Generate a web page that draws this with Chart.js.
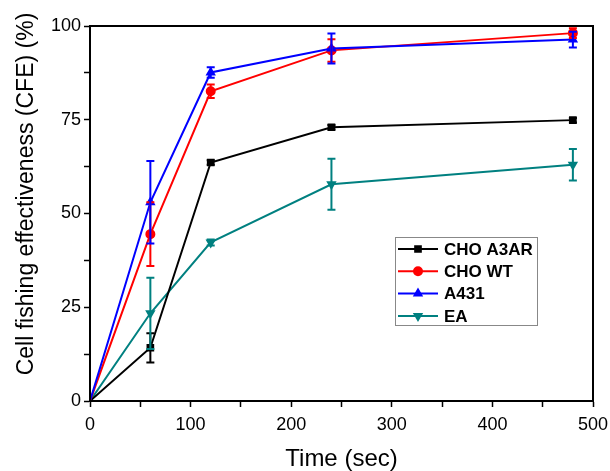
<!DOCTYPE html>
<html>
<head>
<meta charset="utf-8">
<script src="https://cdn.jsdelivr.net/npm/chart.js@4/dist/chart.umd.min.js"></script>
<style>
  html, body { margin: 0; padding: 0; background: #fff; }
  #wrap { width: 610px; height: 471px; }
</style>
</head>
<body>
<div id="wrap"><canvas id="chart-cfe" width="610" height="471"></canvas></div>
<script>
// time points (sec)
const timePoints = [0, 60, 120, 240, 480];

const seriesNames = ['CHO A3AR', 'CHO WT', 'A431', 'EA'];
const seriesColors = ['#000000', '#ff0000', '#0000ff', '#008080'];

const choA3ar = [0, 14.2, 63.6, 73.0, 74.9];
const choA3arErr = [0, 3.9, 0.6, 0.6, 0.6];

const choWt = [0, 44.5, 82.6, 93.5, 98.1];
const choWtErr = [0, 8.5, 1.8, 3.0, 1.3];

const a431 = [0, 53.0, 87.6, 94.0, 96.4];
const a431Err = [0, 11.0, 1.4, 4.0, 2.1];

const ea = [0, 23.4, 42.3, 57.8, 63.0];
const eaErr = [0, 9.5, 0.8, 6.8, 4.2];

const xTicks = [0, 100, 200, 300, 400, 500];
const yTicks = [0, 25, 50, 75, 100];

const xTitle = 'Time (sec)';
const yTitle = 'Cell fishing effectiveness (CFE) (%)';

const fontFamily = '"Liberation Sans", Arial, sans-serif';

function toPoints(values) {
  return values.map((v, i) => ({ x: timePoints[i], y: v }));
}

// error bars drawn through the scales
const errorBars = {
  id: 'errorBars',
  afterDatasetsDraw(chart) {
    const ctx = chart.ctx;
    const yScale = chart.scales.y;
    chart.data.datasets.forEach((ds, di) => {
      const meta = chart.getDatasetMeta(di);
      ctx.save();
      ctx.strokeStyle = ds.borderColor;
      ctx.lineWidth = 2;
      meta.data.forEach((pt, i) => {
        const err = ds.errors[i];
        if (!err) return;
        const v = ds.data[i].y;
        const top = yScale.getPixelForValue(v + err);
        const bot = yScale.getPixelForValue(v - err);
        ctx.beginPath();
        ctx.moveTo(pt.x, top); ctx.lineTo(pt.x, bot);
        ctx.moveTo(pt.x - 4, top); ctx.lineTo(pt.x + 4, top);
        ctx.moveTo(pt.x - 4, bot); ctx.lineTo(pt.x + 4, bot);
        ctx.stroke();
      });
      ctx.restore();
    });
  }
};

// frame around the plot, y title and the boxed legend
const frameLegend = {
  id: 'frameLegend',
  afterDraw(chart) {
    const ctx = chart.ctx;
    const a = chart.chartArea;
    ctx.save();
    ctx.strokeStyle = '#000';
    ctx.lineWidth = 2;
    ctx.strokeRect(a.left, a.top, a.right - a.left, a.bottom - a.top);

    // y title (sits a bit above the axis centre in the original)
    ctx.save();
    ctx.translate(27, 194);
    ctx.rotate(-Math.PI / 2);
    ctx.font = '23px ' + fontFamily;
    ctx.fillStyle = '#000';
    ctx.textAlign = 'center';
    ctx.textBaseline = 'middle';
    ctx.fillText(yTitle, 0, 0);
    ctx.restore();

    const bx = 395, by = 237, bw = 142, bh = 88;
    ctx.fillStyle = '#fff';
    ctx.fillRect(bx, by, bw, bh);
    ctx.strokeStyle = '#888';
    ctx.lineWidth = 1;
    ctx.strokeRect(bx + 0.5, by + 0.5, bw, bh);

    ctx.font = 'bold 17px ' + fontFamily;
    ctx.textBaseline = 'middle';
    chart.data.datasets.forEach((ds, i) => {
      const y = by + 12 + i * 22.3;
      ctx.strokeStyle = ds.borderColor;
      ctx.fillStyle = ds.borderColor;
      ctx.lineWidth = 2;
      ctx.beginPath();
      ctx.moveTo(bx + 3, y); ctx.lineTo(bx + 43, y);
      ctx.stroke();
      Chart.helpers.drawPoint(ctx, {
        pointStyle: ds.pointStyle, radius: 4, rotation: ds.pointRotation || 0, borderWidth: 1
      }, bx + 23, y);
      ctx.fillStyle = '#000';
      ctx.fillText(ds.label, bx + 49, y + 1);
    });
    ctx.restore();
  }
};

const cfeChart = new Chart(document.getElementById('chart-cfe'), {
  type: 'line',
  data: {
    datasets: [
      { label: seriesNames[0], data: toPoints(choA3ar), errors: choA3arErr, pointStyle: 'rect', order: 3 },
      { label: seriesNames[1], data: toPoints(choWt), errors: choWtErr, pointStyle: 'circle', order: 2 },
      { label: seriesNames[2], data: toPoints(a431), errors: a431Err, pointStyle: 'triangle', order: 1 },
      { label: seriesNames[3], data: toPoints(ea), errors: eaErr, pointStyle: 'triangle', pointRotation: 180, order: 4 }
    ].map((ds, i) => Object.assign(ds, {
      borderColor: seriesColors[i],
      backgroundColor: seriesColors[i],
      pointBackgroundColor: seriesColors[i],
      borderWidth: 2,
      pointRadius: (c) => c.dataIndex === 0 ? 0 : 4,
      tension: 0
    }))
  },
  options: {
    responsive: false,
    animation: false,
    layout: { padding: { top: 26, right: 17, left: 0, bottom: 0 } },
    plugins: { legend: { display: false }, tooltip: { enabled: false } },
    scales: {
      x: {
        type: 'linear',
        min: 0, max: 500,
        afterFit(scale) {
          scale.height = 70;
          scale.paddingRight = 17;
        },
        border: { color: '#000', width: 2 },
        grid: { drawOnChartArea: false, drawTicks: true, tickLength: 6, tickColor: '#000', tickWidth: 1.5 },
        ticks: {
          stepSize: 50, autoSkip: false, maxRotation: 0, padding: 7, color: '#000',
          font: { family: fontFamily, size: 18 },
          callback: (v) => xTicks.includes(v) ? String(v) : ''
        },
        title: {
          display: true, text: xTitle, color: '#000',
          font: { family: fontFamily, size: 24, lineHeight: 1 }, padding: { top: 0, bottom: 0 }
        }
      },
      y: {
        min: 0, max: 100,
        afterFit(scale) { scale.width = 90; },
        border: { color: '#000', width: 2 },
        grid: { drawOnChartArea: false, drawTicks: true, tickLength: 6, tickColor: '#000', tickWidth: 1.5 },
        ticks: {
          stepSize: 12.5, autoSkip: false, padding: 3, color: '#000',
          font: { family: fontFamily, size: 18 },
          callback: (v) => yTicks.includes(v) ? String(v) : ''
        }
      }
    }
  },
  plugins: [errorBars, frameLegend]
});
</script>
</body>
</html>
